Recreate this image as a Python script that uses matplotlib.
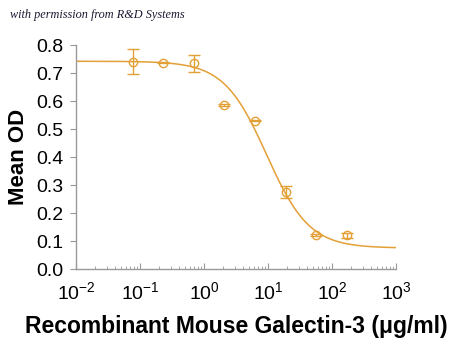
import numpy as np
import matplotlib
matplotlib.use('Agg')
import matplotlib.pyplot as plt
from matplotlib.ticker import LogLocator, NullFormatter

plt.rcParams['font.family'] = ['Liberation Sans', 'DejaVu Sans']
plt.rcParams['mathtext.fontset'] = 'custom'
plt.rcParams['mathtext.rm'] = 'Liberation Sans'
plt.rcParams['mathtext.default'] = 'regular'

# measured points (ug/ml, mean OD, error)
conc = [0.078, 0.23, 0.69, 2.05, 6.3, 19.0, 56.0, 170.0]
od = [0.741, 0.737, 0.734, 0.587, 0.530, 0.274, 0.121, 0.120]
err = [0.043, 0.003, 0.032, 0.003, 0.003, 0.022, 0.003, 0.010]

# 4-parameter logistic fit
top, bottom, ec50, hill = 0.742, 0.075, 9.5, 1.3

col = '#E3A037'

fig = plt.figure(figsize=(4.5, 3.41), dpi=100)
ax = fig.add_axes([0.169, 0.211, 0.711, 0.657])

xs = np.logspace(-2, 3, 300)
ax.plot(xs, bottom + (top - bottom) / (1 + (xs / ec50) ** hill), color=col, lw=1.1)
ax.errorbar(conc, od, yerr=err, fmt='o', mfc='none', mec=col, ecolor=col,
            ms=6, mew=1, capsize=4, elinewidth=1, capthick=1)

ax.set_xscale('log')
ax.set_xlim(1e-2, 1e3)
ax.set_ylim(0, 0.8)
ax.set_yticks(np.arange(0, 0.81, 0.1))
ax.set_yticklabels(['%.1f' % v for v in np.arange(0, 0.81, 0.1)])
ax.xaxis.set_major_locator(LogLocator(base=10, numticks=10))
ax.xaxis.set_minor_locator(LogLocator(base=10, subs=np.arange(2, 10), numticks=20))
ax.xaxis.set_minor_formatter(NullFormatter())

for s in ['top', 'right']:
    ax.spines[s].set_visible(False)
for s in ['left', 'bottom']:
    ax.spines[s].set_color('#999999')
    ax.spines[s].set_linewidth(1)

ax.tick_params(axis='y', direction='out', length=4, color='#999999', labelsize=14, pad=5)
ax.tick_params(axis='x', which='major', direction='in', length=4, color='#999999', labelsize=14, pad=9)
ax.tick_params(axis='x', which='minor', direction='in', length=2.5, color='#999999')

ax.set_ylabel('Mean OD', fontsize=16, fontweight='bold', labelpad=5)
ax.set_xlabel('Recombinant Mouse Galectin-3 (\u03bcg/ml)', fontsize=16.5, fontweight='bold', labelpad=8)

fig.text(0.022, 0.948, 'with permission from R&D Systems', fontsize=8.8,
         style='italic', family='Liberation Serif', color='#1a1a33')

fig.savefig('out.png', dpi=100)
